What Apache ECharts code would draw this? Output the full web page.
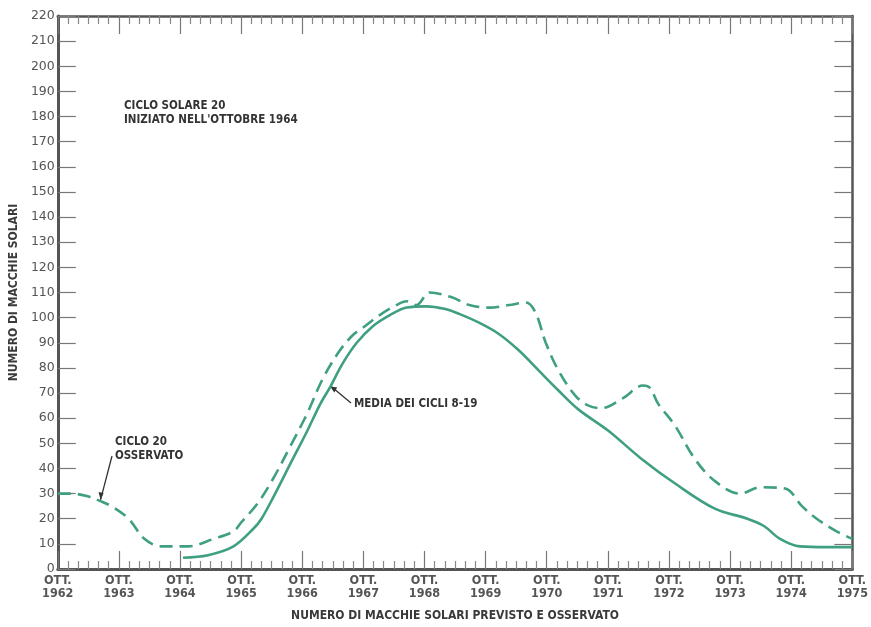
<!DOCTYPE html>
<html><head><meta charset="utf-8">
<script src="https://cdn.jsdelivr.net/npm/echarts@6/dist/echarts.min.js"></script>
<style>html,body{margin:0;padding:0;background:#fff}#c{width:871px;height:627px}</style>
</head><body><div id="c"></div>
<script>
// x values: months since October 1962
const tickYears = [1962,1963,1964,1965,1966,1967,1968,1969,1970,1971,1972,1973,1974,1975];
const observedMonths = [0,2.7,5.7,8.4,10.5,13.9,17,20.3,25.6,30.6,34.5,36,39.2,42.3,45.7,49,52.1,55.4,57.9,59.9,63.2,66.5,68.5,70.4,73,77.5,80.8,84.7,88.6,91.9,93.8,95.8,98.3,101.6,104.2,106.7,111,114.9,116.3,117.8,121.2,125,129,134,137.9,142.8,146.1,149,152.9,156];
const observedValues = [30,30,29,27,25,20,12,9,9,12,15,18.5,26,36,49,62,76,87,93,96,101,105,106.5,105,110,108,105,104,105,106,102,90,79,69,65,64,68,73,72,66,57,44,35,30,32.5,32,25,20,15,12];
const averageMonths = [24.6,29.5,34.5,38.4,40,42.3,45.7,49,51.5,53.5,56,58.7,61.8,65.2,68.5,72.4,75.9,78.8,82.7,86.6,90.5,94.4,98.3,102.2,108.1,114.5,121.2,129,135.4,138.7,141.8,145.7,151,156];
const averageValues = [4.5,5.5,9,16,20,28.5,42,55,65.5,72.5,82,90,96.5,101,104,104.5,103.5,101.5,98,93.5,87,79,71,63.5,55,44,34,24,20,17,12,9,8.7,8.7];
const yTickValues = [0,10,20,30,40,50,60,70,80,90,100,110,120,130,140,150,160,170,180,190,200,210,220];

const GREEN = '#3f9f82';
const AX = '#555';
const FONT = "'DejaVu Sans Condensed','DejaVu Sans',sans-serif";

const chart = echarts.init(document.getElementById('c'), null, {renderer:'canvas'});

const xCommon = {
  type:'value', min:0, max:156, interval:12,
  splitLine:{show:false},
  axisLine:{show:true, onZero:false, lineStyle:{color:AX, width:3}},
  axisTick:{show:true, inside:true, length:18, lineStyle:{color:'#777', width:1.2}},
  minorTick:{show:true, splitNumber:6, length:8, lineStyle:{color:'#888', width:1.2}},
  minorSplitLine:{show:false}
};
const yCommon = {
  type:'value', min:0, max:220, interval:10,
  splitLine:{show:false},
  axisLine:{show:true, onZero:false, lineStyle:{color:AX, width:3}},
  axisTick:{show:true, inside:true, length:18, lineStyle:{color:'#777', width:1.2}}
};

function toData(xs, ys){ return xs.map((x,i)=>[x, ys[i]]); }

chart.setOption({
  animation:false,
  backgroundColor:'#fff',
  grid:{left:56, right:15, top:16, bottom:57, containLabel:false},
  xAxis:[
    Object.assign({}, xCommon, {
      position:'bottom',
      name:'NUMERO DI MACCHIE SOLARI PREVISTO E OSSERVATO',
      nameLocation:'middle', nameGap:41,
      nameTextStyle:{fontFamily:FONT, fontWeight:'bold', fontSize:12, color:'#3a3a3a'},
      axisLabel:{show:true, margin:5, fontFamily:FONT, fontWeight:'bold', fontSize:12.5, lineHeight:13, color:'#555',
        formatter:v=>'OTT.\n'+tickYears[Math.round(v/12)]}
    }),
    Object.assign({}, xCommon, {position:'top', axisLabel:{show:false}, axisLine:{show:true, onZero:false, lineStyle:{color:AX, width:2.5}}})
  ],
  yAxis:[
    Object.assign({}, yCommon, {
      position:'left',
      name:'NUMERO DI MACCHIE SOLARI',
      nameLocation:'middle', nameGap:34, nameRotate:90,
      nameTextStyle:{fontFamily:FONT, fontWeight:'bold', fontSize:12, color:'#3a3a3a'},
      axisLabel:{show:true, margin:3, fontFamily:"'DejaVu Sans',sans-serif", fontSize:12.5, color:'#555',
        formatter:v=>String(yTickValues[Math.round(v/10)])}
    }),
    Object.assign({}, yCommon, {position:'right', axisLabel:{show:false}, axisLine:{show:true, onZero:false, lineStyle:{color:AX, width:2.5}}})
  ],
  series:[
    {type:'line', name:'Ciclo 20 osservato', xAxisIndex:0, yAxisIndex:0,
      data:toData(observedMonths, observedValues), smooth:0.35, showSymbol:false,
      lineStyle:{color:GREEN, width:2.6, type:[13,7]}},
    {type:'line', name:'Media dei cicli 8-19', xAxisIndex:0, yAxisIndex:0,
      data:toData(averageMonths, averageValues), smooth:0.35, showSymbol:false,
      lineStyle:{color:GREEN, width:2.6}}
  ]
});

// annotations
const p1 = chart.convertToPixel({xAxisIndex:0, yAxisIndex:0}, [8.4, 27.5]);
const p2 = chart.convertToPixel({xAxisIndex:0, yAxisIndex:0}, [53.3, 73]);
const txt = (x,y,s,fs)=>({type:'text', left:x, top:y, style:{text:s, fontFamily:FONT, fontWeight:'bold', fontSize:fs||11, fill:'#333'}});
chart.setOption({graphic:[
  txt(124, 100, 'CICLO SOLARE 20', 11.5),
  txt(124, 114, "INIZIATO NELL'OTTOBRE 1964", 11.5),
  txt(115, 436, 'CICLO 20', 11.5),
  txt(115, 450, 'OSSERVATO', 11.5),
  txt(354, 398, 'MEDIA DEI CICLI 8-19', 11.5),
  {type:'line', shape:{x1:112, y1:456, x2:p1[0], y2:p1[1]}, style:{stroke:'#333', lineWidth:1.3}},
  {type:'polygon', shape:{points:[[p1[0],p1[1]],[p1[0]-2,p1[1]-8],[p1[0]+3,p1[1]-7]]}, style:{fill:'#333'}},
  {type:'line', shape:{x1:351, y1:403, x2:p2[0]+2, y2:p2[1]+1}, style:{stroke:'#333', lineWidth:1.3}},
  {type:'polygon', shape:{points:[[p2[0]+1,p2[1]+1],[p2[0]+8,p2[1]+2],[p2[0]+5,p2[1]+7]]}, style:{fill:'#333'}}
]});
</script>
</body></html>
